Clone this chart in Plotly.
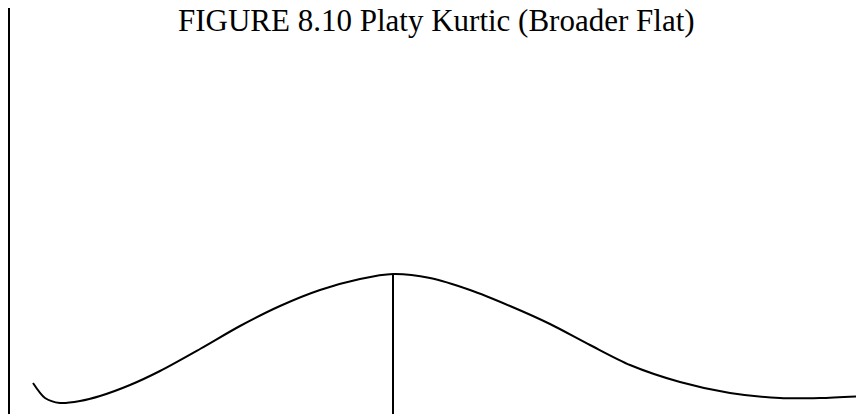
import plotly.graph_objects as go

# curve (x across, height above the bottom edge)
curve_x = [33, 45, 60, 80, 100, 130, 160, 200, 240, 280, 320, 360, 393,
           430, 470, 510, 550, 590, 630, 680, 730, 780, 820, 864]
curve_y = [31, 16, 11, 13, 18, 29, 43, 65, 88, 108, 124, 135, 140,
           136, 124, 108, 90, 69, 49, 32, 21, 16, 16, 18]

# left axis line and the line dropped from the peak
axis_x = [9, 9]
axis_y = [0, 406]
peak_x = [393, 393]
peak_y = [0, 140]

title_text = "FIGURE 8.10 Platy Kurtic (Broader Flat)"

fig = go.Figure()
fig.add_trace(go.Scatter(x=curve_x, y=curve_y, mode="lines",
                         line=dict(color="black", width=2, shape="spline", smoothing=0.8),
                         hoverinfo="skip"))
fig.add_trace(go.Scatter(x=axis_x, y=axis_y, mode="lines",
                         line=dict(color="black", width=2), hoverinfo="skip"))
fig.add_trace(go.Scatter(x=peak_x, y=peak_y, mode="lines",
                         line=dict(color="black", width=2), hoverinfo="skip"))

fig.add_annotation(text=title_text, x=436, y=414 - 20, xref="x", yref="y",
                   showarrow=False, xanchor="center", yanchor="middle", borderpad=0,
                   font=dict(family="Liberation Serif, Times New Roman, serif",
                             size=31, color="black"))

# the page body has an 8px margin, so the figure is shifted by that much
fig.update_layout(
    width=856, height=406,
    margin=dict(l=0, r=0, t=0, b=0),
    paper_bgcolor="white", plot_bgcolor="white",
    showlegend=False,
    xaxis=dict(range=[8, 864], visible=False, fixedrange=True),
    yaxis=dict(range=[0, 406], visible=False, fixedrange=True),
)

fig.write_html("out.html")
